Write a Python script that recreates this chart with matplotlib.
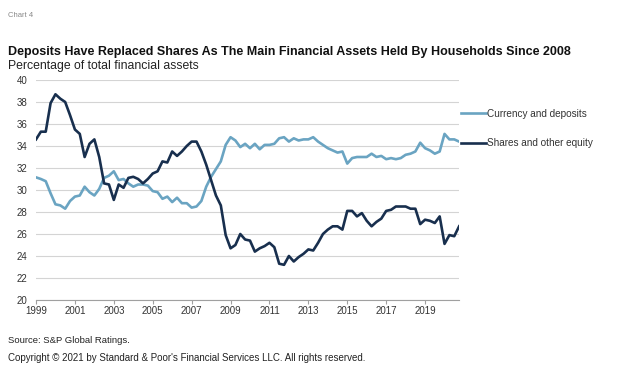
import matplotlib
matplotlib.use("Agg")
import matplotlib.pyplot as plt
import numpy as np

plt.rcParams["font.family"] = ["Liberation Sans", "DejaVu Sans"]

# quarterly observations, 1999 Q1 to 2020 Q4
start_year = 1999
currency = [31.15, 31.0, 30.8, 29.7, 28.7, 28.6, 28.3, 29.0, 29.4, 29.5,
            30.3, 29.8, 29.5, 30.1, 31.1, 31.3, 31.7, 30.9, 31.0, 30.6,
            30.3, 30.5, 30.5, 30.4, 29.9, 29.8, 29.2, 29.4, 28.9, 29.3,
            28.8, 28.8, 28.4, 28.5, 29.0, 30.3, 31.2, 31.9, 32.6, 34.1,
            34.8, 34.5, 33.9, 34.2, 33.8, 34.2, 33.7, 34.1, 34.1, 34.2,
            34.7, 34.8, 34.4, 34.7, 34.5, 34.6, 34.6, 34.8, 34.4, 34.1,
            33.8, 33.6, 33.4, 33.5, 32.4, 32.9, 33.0, 33.0, 33.0, 33.3,
            33.0, 33.1, 32.8, 32.9, 32.8, 32.9, 33.2, 33.3, 33.5, 34.3,
            33.8, 33.6, 33.3, 33.5, 35.1, 34.6, 34.6, 34.4]
shares = [34.6, 35.3, 35.3, 37.9, 38.7, 38.3, 38.0, 36.8, 35.5, 35.1,
          33.0, 34.2, 34.6, 33.0, 30.6, 30.5, 29.1, 30.5, 30.2, 31.1,
          31.2, 31.0, 30.6, 31.0, 31.5, 31.7, 32.6, 32.5, 33.5, 33.1,
          33.5, 34.0, 34.4, 34.4, 33.5, 32.3, 30.9, 29.5, 28.6, 25.9,
          24.7, 25.0, 26.0, 25.5, 25.4, 24.4, 24.7, 24.9, 25.2, 24.8,
          23.3, 23.2, 24.0, 23.5, 23.9, 24.2, 24.6, 24.5, 25.2, 26.0,
          26.4, 26.7, 26.7, 26.4, 28.1, 28.1, 27.6, 27.9, 27.2, 26.7,
          27.1, 27.4, 28.1, 28.2, 28.5, 28.5, 28.5, 28.3, 28.3, 26.9,
          27.3, 27.2, 27.0, 27.6, 25.1, 25.9, 25.8, 26.7]
year_ticks = list(range(1999, 2020, 2))
y_ticks = list(range(20, 41, 2))

dates = start_year + np.arange(len(currency)) / 4

fig = plt.figure(figsize=(6.25, 3.8), dpi=100)
ax = fig.add_axes([0.0576, 0.2105, 0.677, 0.579])

light = "#6aa4c2"
dark = "#182f4e"
ax.plot(dates, currency, color=light, lw=1.9, label="Currency and deposits")
ax.plot(dates, shares, color=dark, lw=1.9, label="Shares and other equity")

ax.set_xlim(start_year, dates[-1])
ax.set_ylim(20, 40)
ax.set_xticks(year_ticks)
ax.set_yticks(y_ticks)
ax.grid(axis="y", color="#d4d4d4", lw=0.8)
ax.set_axisbelow(True)
for s in ["top", "right", "left"]:
    ax.spines[s].set_visible(False)
ax.spines["bottom"].set_color("#a0a0a0")
ax.tick_params(axis="y", length=0, labelsize=7, colors="#333333", pad=6)
ax.tick_params(axis="x", length=3, color="#a0a0a0", labelsize=7, labelcolor="#333333", pad=1.5)

ax.legend(loc="upper left", bbox_to_anchor=(461 / 625, 0.714), bbox_transform=fig.transFigure,
          frameon=False, borderpad=0, borderaxespad=0,
          fontsize=7.2, handlelength=2.5, handletextpad=0.1, labelspacing=1.95,
          labelcolor="#333333")

fig.text(0.013, 0.96, "Chart 4", fontsize=5.5, color="#888888", va="center")
fig.text(0.013, 0.863, "Deposits Have Replaced Shares As The Main Financial Assets Held By Households Since 2008",
         fontsize=9.0, fontweight="bold", color="#111111", va="center")
fig.text(0.013, 0.826, "Percentage of total financial assets", fontsize=8.8, color="#222222", va="center")
fig.text(0.013, 0.105, "Source: S&P Global Ratings.", fontsize=6.8, color="#222222", va="center")
fig.text(0.013, 0.058, "Copyright © 2021 by Standard & Poor's Financial Services LLC. All rights reserved.",
         fontsize=7.0, color="#222222", va="center")

fig.savefig("out.png", dpi=100, facecolor="white")
